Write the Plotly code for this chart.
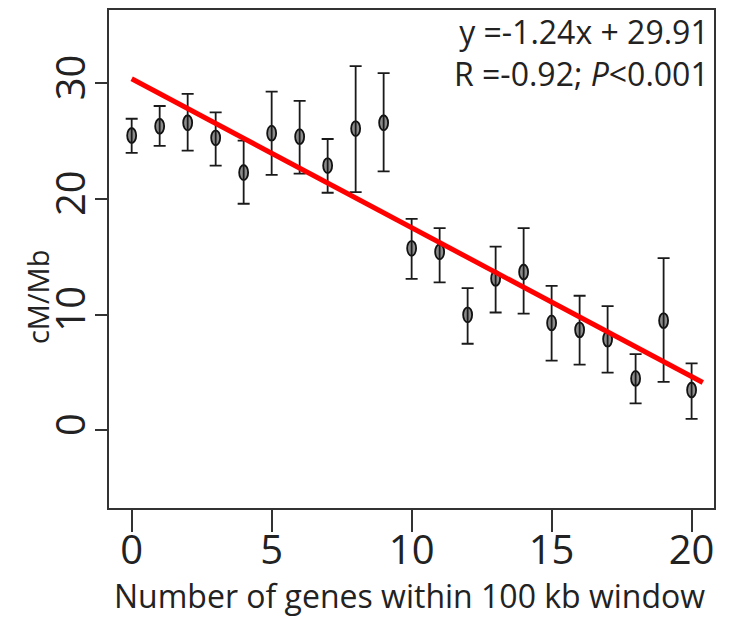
import plotly.graph_objects as go

genes = list(range(21))
cm_mb = [25.5, 26.3, 26.6, 25.3, 22.3, 25.7, 25.4, 22.9, 26.1, 26.6,
         15.75, 15.45, 10.0, 13.15, 13.7, 9.3, 8.7, 7.9, 4.5, 9.5, 3.5]
err_up = [1.45, 1.75, 2.5, 2.2, 2.75, 3.6, 3.1, 2.3, 5.4, 4.3,
          2.55, 2.05, 2.3, 2.75, 3.8, 3.2, 2.95, 2.85, 2.1, 5.4, 2.3]
err_down = [1.5, 1.7, 2.4, 2.4, 2.7, 3.6, 3.2, 2.35, 5.5, 4.2,
            2.65, 2.65, 2.5, 2.95, 3.6, 3.26, 3.0, 2.9, 2.15, 5.3, 2.5]
fit_x = [0, 20.4]
fit_y = [30.4, 4.15]
x_ticks = [0, 5, 10, 15, 20]
y_ticks = [0, 10, 20, 30]

FONT = "Open Sans"
TXT = "#222"
HALF_W = 0.16   # marker half-width in x units
HALF_H = 0.65   # marker half-height in y units

fig = go.Figure()
fig.add_trace(go.Scatter(
    x=genes, y=cm_mb, mode="markers",
    marker=dict(symbol="circle", size=1, color="rgba(0,0,0,0)"),
    error_y=dict(type="data", array=err_up, arrayminus=err_down,
                 color="#1a1a1a", thickness=1.8, width=6),
    showlegend=False,
))
fig.add_trace(go.Scatter(
    x=fit_x, y=fit_y, mode="lines",
    line=dict(color="#ff0000", width=5), showlegend=False,
))

for gx, gy in zip(genes, cm_mb):
    fig.add_shape(type="circle", xref="x", yref="y", layer="between",
                  x0=gx - HALF_W, x1=gx + HALF_W,
                  y0=gy - HALF_H, y1=gy + HALF_H,
                  fillcolor="#8c8c8c", line=dict(color="#111", width=1.8))

fig.update_layout(
    width=723, height=611,
    margin=dict(l=101, r=17, t=2, b=111),
    plot_bgcolor="white", paper_bgcolor="white",
    font=dict(family=FONT, color=TXT),
    xaxis=dict(range=[-0.81, 20.8], tickvals=x_ticks, ticks="outside",
               ticklen=22, tickwidth=1.5, tickcolor="#333",
               tickfont=dict(size=40, family=FONT, color=TXT),
               ticklabelstandoff=-16,
               showline=True, linecolor="#333", linewidth=2, mirror=True,
               showgrid=False, zeroline=False, automargin=False),
    yaxis=dict(range=[-6.7, 36.35], tickvals=y_ticks, ticks="outside",
               ticklen=12, tickwidth=1.5, tickcolor="#333", tickangle=-90,
               tickfont=dict(size=40, family=FONT, color=TXT),
               ticklabelstandoff=-6,
               showline=True, linecolor="#333", linewidth=2, mirror=True,
               showgrid=False, zeroline=False, automargin=False),
    annotations=[
        dict(x=1, y=1, xref="paper", yref="paper", xanchor="right",
             yanchor="top", showarrow=False, align="right", xshift=-3,
             yshift=2,
             text="y =-1.24x + 29.91<br>R =-0.92; <i>P</i><0.001",
             font=dict(size=32, family=FONT, color=TXT)),
        dict(x=0.5, y=-0.1767, xref="paper", yref="paper", xanchor="center",
             yanchor="middle", showarrow=False, xshift=-2,
             text="Number of genes within 100 kb window",
             font=dict(size=32, family=FONT, color=TXT)),
        dict(x=-0.117, y=0.424, xref="paper", yref="paper", xanchor="center",
             yanchor="middle", showarrow=False, textangle=-90,
             text="cM/Mb",
             font=dict(size=29, family=FONT, color=TXT)),
    ],
)

fig.write_html("out.html")
